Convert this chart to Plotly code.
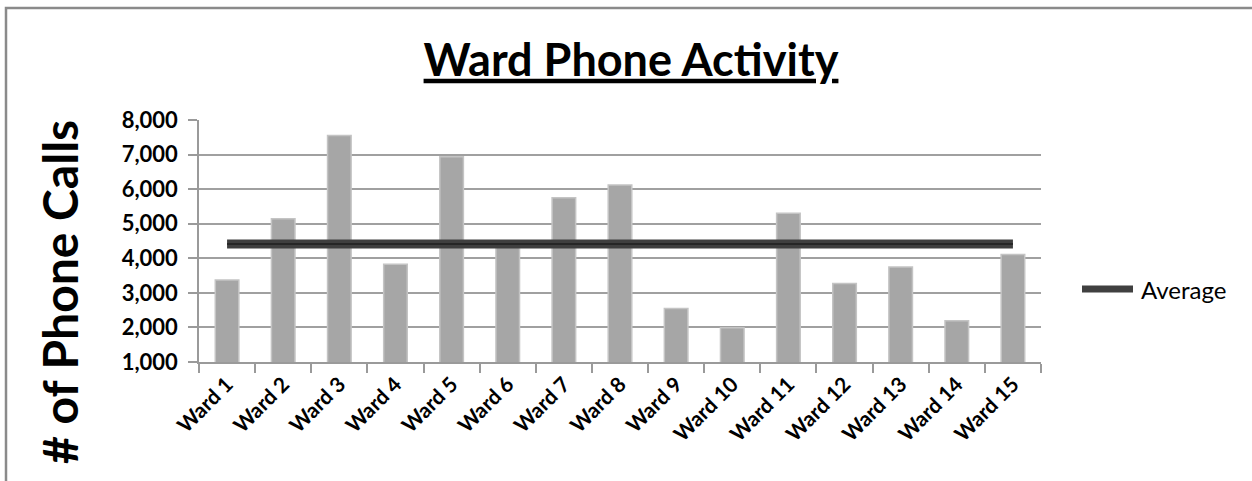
import plotly.graph_objects as go

wards = ["Ward 1", "Ward 2", "Ward 3", "Ward 4", "Ward 5", "Ward 6", "Ward 7", "Ward 8",
         "Ward 9", "Ward 10", "Ward 11", "Ward 12", "Ward 13", "Ward 14", "Ward 15"]
calls = [3370, 5140, 7550, 3830, 6940, 4350, 5750, 6120, 2550, 1990, 5300, 3270, 3750, 2190, 4110]
average = [4415, 4415, 4415, 4415, 4415, 4415, 4415, 4415, 4415, 4415, 4415, 4415, 4415, 4415, 4415]
y_ticks = [1000, 2000, 3000, 4000, 5000, 6000, 7000, 8000]

W, H = 1252, 481
L, R, T, B = 199, 211, 120, 119
pw, ph = W - L - R, H - T - B

def px_x(p):
    return (p - L) / pw

def px_y(p):
    return (H - B - p) / ph

FONT = "Lato"

fig = go.Figure()
fig.add_trace(go.Bar(
    x=wards, y=calls, name="Calls",
    marker=dict(color="#A6A6A6", line=dict(color="#C4C4C4", width=1.5)),
    width=0.42, showlegend=False,
))
fig.add_trace(go.Scatter(
    x=wards, y=average, name="Average", mode="lines",
    line=dict(color="#3F3F3F", width=9), showlegend=False,
))
fig.add_trace(go.Scatter(
    x=wards, y=average, mode="lines", hoverinfo="skip",
    line=dict(color="#262626", width=2), showlegend=False,
))

fig.update_layout(
    width=W, height=H,
    margin=dict(l=L, r=R, t=T, b=B, pad=0),
    paper_bgcolor="white", plot_bgcolor="white",
    font=dict(family=FONT, color="black"),
    title=dict(
        text="<b>Ward Phone Activity</b>",
        font=dict(family=FONT, size=45, color="black", lineposition="under"),
        x=631 / W, xanchor="center", y=1 - 60 / H, yanchor="middle",
    ),
    showlegend=False,
)
fig.update_xaxes(
    type="category", showgrid=False,
    showline=True, linecolor="#9A9A9A", linewidth=1.5,
    ticks="outside", tickson="boundaries", ticklen=9, tickcolor="#9A9A9A", tickwidth=1.5,
    tickangle=-45, tickfont=dict(family=FONT, size=21, color="black", weight="bold"),
)
fig.update_yaxes(
    range=[1000, 8000], tickvals=y_ticks, tickformat=",",
    showgrid=True, gridcolor="#A0A0A0", gridwidth=1.5,
    showline=True, linecolor="#9A9A9A", linewidth=1.5,
    ticks="outside", ticklen=9, tickcolor="#9A9A9A", tickwidth=1.5,
    ticklabelstandoff=6,
    tickfont=dict(family=FONT, size=22, color="black", weight="bold"),
    zeroline=False,
)

# y axis title (positioned like the reference)
fig.add_annotation(
    text="<b># of Phone Calls</b>", textangle=-90,
    xref="paper", yref="paper", x=px_x(59), y=px_y(292),
    xanchor="center", yanchor="middle", showarrow=False,
    font=dict(family=FONT, size=48, color="black"),
)

# legend (drawn manually for the long line sample)
fig.add_shape(type="line", xref="paper", yref="paper",
              x0=px_x(1082), x1=px_x(1133), y0=px_y(289), y1=px_y(289),
              line=dict(color="#404040", width=7))
fig.add_annotation(
    text="Average", xref="paper", yref="paper", x=px_x(1139), y=px_y(289),
    xanchor="left", yanchor="middle", showarrow=False,
    font=dict(family=FONT, size=24, color="black"),
)

# chart border (cropped at right/bottom in the reference)
fig.add_shape(type="rect", xref="paper", yref="paper", layer="below",
              x0=px_x(6), x1=px_x(1262), y0=px_y(495), y1=px_y(8),
              line=dict(color="#8A8A8A", width=2.5), fillcolor="rgba(0,0,0,0)")

fig.write_html("out.html", config={"displayModeBar": False},
               post_script="document.body.style.margin='0';")
